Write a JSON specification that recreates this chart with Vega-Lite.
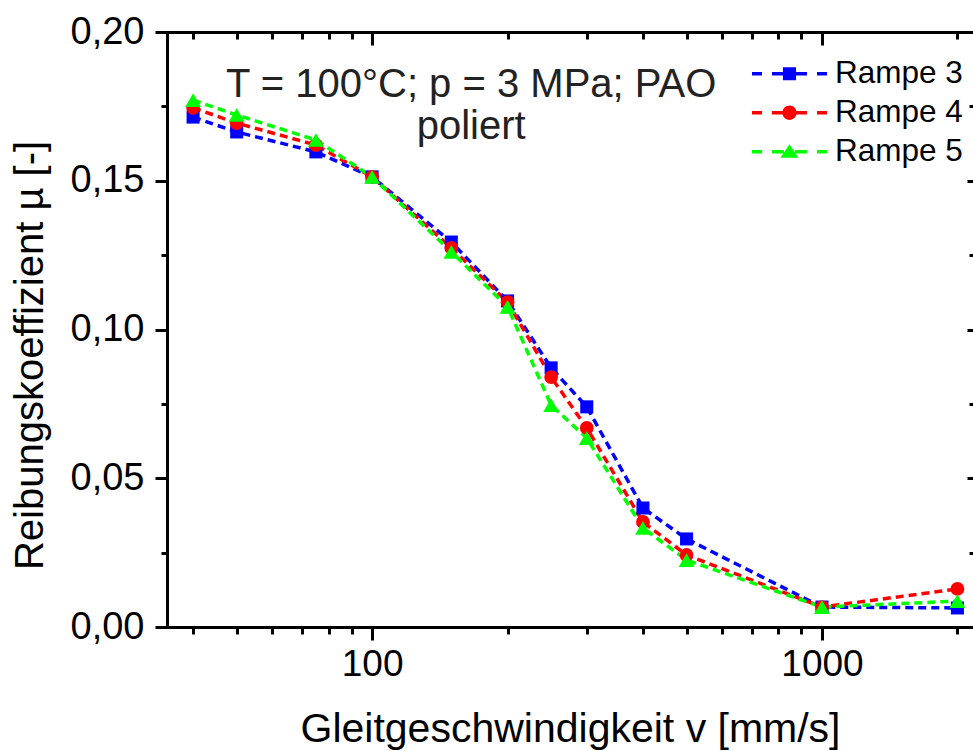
{
  "$schema": "https://vega.github.io/schema/vega-lite/v6.json",
  "width": 806,
  "height": 595,
  "autosize": {"type": "none"},
  "padding": {"left": 167, "top": 32, "right": 0, "bottom": 124},
  "background": "white",
  "config": {
    "view": {"stroke": null},
    "font": "Liberation Sans",
    "axis": {
      "labelFont": "Liberation Sans",
      "titleFont": "Liberation Sans",
      "labelColor": "black",
      "titleColor": "black",
      "domainColor": "black",
      "tickColor": "black",
      "domainWidth": 3,
      "tickWidth": 3,
      "labelFontWeight": "normal",
      "titleFontWeight": "normal",
      "grid": false,
      "domainCap": "square"
    }
  },
  "datasets": {
    "friction": [
      {"series": "Rampe 3", "v": 40, "mu": 0.1714},
      {"series": "Rampe 3", "v": 50, "mu": 0.1664},
      {"series": "Rampe 3", "v": 75, "mu": 0.1597},
      {"series": "Rampe 3", "v": 100, "mu": 0.1513},
      {"series": "Rampe 3", "v": 150, "mu": 0.1294},
      {"series": "Rampe 3", "v": 200, "mu": 0.1096},
      {"series": "Rampe 3", "v": 250, "mu": 0.0871},
      {"series": "Rampe 3", "v": 300, "mu": 0.0740},
      {"series": "Rampe 3", "v": 400, "mu": 0.0400},
      {"series": "Rampe 3", "v": 500, "mu": 0.0296},
      {"series": "Rampe 3", "v": 1000, "mu": 0.0067},
      {"series": "Rampe 3", "v": 2000, "mu": 0.0064},
      {"series": "Rampe 4", "v": 40, "mu": 0.1745},
      {"series": "Rampe 4", "v": 50, "mu": 0.1694},
      {"series": "Rampe 4", "v": 75, "mu": 0.1620},
      {"series": "Rampe 4", "v": 100, "mu": 0.1513},
      {"series": "Rampe 4", "v": 150, "mu": 0.1274},
      {"series": "Rampe 4", "v": 200, "mu": 0.1092},
      {"series": "Rampe 4", "v": 250, "mu": 0.0840},
      {"series": "Rampe 4", "v": 300, "mu": 0.0669},
      {"series": "Rampe 4", "v": 400, "mu": 0.0353},
      {"series": "Rampe 4", "v": 500, "mu": 0.0242},
      {"series": "Rampe 4", "v": 1000, "mu": 0.0067},
      {"series": "Rampe 4", "v": 2000, "mu": 0.0128},
      {"series": "Rampe 5", "v": 40, "mu": 0.1771},
      {"series": "Rampe 5", "v": 50, "mu": 0.1721},
      {"series": "Rampe 5", "v": 75, "mu": 0.1637},
      {"series": "Rampe 5", "v": 100, "mu": 0.1513},
      {"series": "Rampe 5", "v": 150, "mu": 0.1261},
      {"series": "Rampe 5", "v": 200, "mu": 0.1076},
      {"series": "Rampe 5", "v": 250, "mu": 0.0746},
      {"series": "Rampe 5", "v": 300, "mu": 0.0635},
      {"series": "Rampe 5", "v": 400, "mu": 0.0333},
      {"series": "Rampe 5", "v": 500, "mu": 0.0225},
      {"series": "Rampe 5", "v": 1000, "mu": 0.0067},
      {"series": "Rampe 5", "v": 2000, "mu": 0.0087}
    ],
    "notes": [
      {"label": "T = 100°C; p = 3 MPa; PAO", "v": 166, "mu": 0.1822},
      {"label": "poliert", "v": 166, "mu": 0.1680}
    ]
  },
  "resolve": {"axis": {"x": "independent", "y": "independent"}},
  "layer": [
    {
      "data": {"name": "friction"},
      "mark": {"type": "line", "strokeDash": [8, 5], "strokeWidth": 3.5},
      "encoding": {
        "x": {
          "field": "v", "type": "quantitative",
          "scale": {"type": "log", "domain": [35, 2166], "nice": false, "zero": false},
          "axis": {
            "orient": "bottom", "values": [100, 1000], "format": "d",
            "tickSize": 13, "labelFontSize": 37, "labelPadding": 6,
            "title": "Gleitgeschwindigkeit v [mm/s]", "titleFontSize": 41, "titlePadding": 27
          }
        },
        "y": {
          "field": "mu", "type": "quantitative",
          "scale": {"domain": [0, 0.2], "nice": false, "zero": false},
          "axis": {
            "orient": "left", "values": [0, 0.05, 0.1, 0.15, 0.2], "format": ".2f",
            "labelExpr": "replace(datum.label, '.', ',')",
            "tickSize": 12, "labelFontSize": 38, "labelPadding": 11,
            "title": "Reibungskoeffizient µ [-]", "titleFontSize": 40,
            "titleX": -125, "titleY": 323, "titleAngle": 270,
            "titleAlign": "center", "titleBaseline": "alphabetic"
          }
        },
        "stroke": {
          "field": "series", "type": "nominal",
          "scale": {"range": ["#0000ff", "#ff0000", "#00ff00"]},
          "legend": null
        },
        "detail": {"field": "series"}
      }
    },
    {
      "data": {"name": "friction"},
      "transform": [{"filter": "datum.series === 'Rampe 3'"}],
      "mark": {"type": "point", "shape": "square", "filled": true, "color": "#0000ff", "size": 170, "opacity": 1},
      "encoding": {
        "x": {
          "field": "v", "type": "quantitative",
          "axis": {
            "orient": "bottom", "values": [40, 50, 60, 70, 80, 90, 200, 300, 400, 500, 600, 700, 800, 900, 2000],
            "labels": false, "domain": false, "tickSize": 7, "title": null
          }
        },
        "y": {
          "field": "mu", "type": "quantitative",
          "axis": {
            "orient": "left", "values": [0.025, 0.075, 0.125, 0.175],
            "labels": false, "domain": false, "tickSize": 6, "title": null
          }
        }
      }
    },
    {
      "data": {"name": "friction"},
      "transform": [{"filter": "datum.series === 'Rampe 4'"}],
      "mark": {"type": "point", "shape": "circle", "filled": true, "color": "#ff0000", "size": 190, "opacity": 1},
      "encoding": {
        "x": {
          "field": "v", "type": "quantitative",
          "axis": {
            "orient": "top", "values": [100, 1000],
            "labels": false, "domain": true, "tickSize": -13, "title": null
          }
        },
        "y": {
          "field": "mu", "type": "quantitative",
          "axis": {
            "orient": "right", "values": [0, 0.05, 0.1, 0.15, 0.2],
            "labels": false, "domain": false, "tickSize": -6, "title": null
          }
        }
      }
    },
    {
      "data": {"name": "friction"},
      "transform": [{"filter": "datum.series === 'Rampe 5'"}],
      "mark": {"type": "point", "shape": "triangle-up", "filled": true, "color": "#00ff00", "size": 250, "opacity": 1},
      "encoding": {
        "x": {
          "field": "v", "type": "quantitative",
          "axis": {
            "orient": "top", "values": [40, 50, 60, 70, 80, 90, 200, 300, 400, 500, 600, 700, 800, 900, 2000],
            "labels": false, "domain": false, "tickSize": -7, "title": null
          }
        },
        "y": {
          "field": "mu", "type": "quantitative",
          "axis": {
            "orient": "right", "values": [0.025, 0.075, 0.125, 0.175],
            "labels": false, "domain": false, "tickSize": -4, "title": null
          }
        }
      }
    },
    {
      "data": {"name": "friction"},
      "mark": {"type": "point", "filled": true, "size": 0},
      "encoding": {
        "x": {"field": "v", "type": "quantitative", "axis": null},
        "y": {"field": "mu", "type": "quantitative", "axis": null},
        "color": {
          "field": "series", "type": "nominal",
          "scale": {"domain": ["Rampe 3", "Rampe 4", "Rampe 5"], "range": ["#0000ff", "#ff0000", "#00ff00"]},
          "legend": {
            "title": null, "orient": "none", "legendX": 585, "legendY": 26,
            "padding": 0, "symbolSize": 196, "symbolOffset": 21.75, "symbolStrokeWidth": 0, "symbolOpacity": 1,
            "labelFont": "Liberation Sans", "labelFontSize": 31.5, "labelColor": "black",
            "labelOffset": 29.75, "rowPadding": 6, "labelLimit": 300
          }
        },
        "shape": {
          "field": "series", "type": "nominal",
          "scale": {
            "domain": ["Rampe 3", "Rampe 4", "Rampe 5"],
            "range": [
              "M-5.357,-0.241H-3.927V0.241H-5.357Z M-2.502,-0.241H-0.804V0.241H-2.502Z M0.804,-0.241H2.502V0.241H0.804Z M3.927,-0.241H5.357V0.241H3.927Z M-0.9375,-0.9375H0.9375V0.9375H-0.9375Z",
              "M-5.357,-0.241H-3.927V0.241H-5.357Z M-2.502,-0.241H-0.804V0.241H-2.502Z M0.804,-0.241H2.502V0.241H0.804Z M3.927,-0.241H5.357V0.241H3.927Z M-1.018,0A1.018,1.018,0,1,1,1.018,0A1.018,1.018,0,1,1,-1.018,0Z",
              "M-5.357,-0.241H-3.927V0.241H-5.357Z M-2.502,-0.241H-0.804V0.241H-2.502Z M0.804,-0.241H2.502V0.241H0.804Z M3.927,-0.241H5.357V0.241H3.927Z M0,-1.071L1.286,0.857L-1.286,0.857Z"
            ]
          },
          "legend": {
            "title": null, "orient": "none", "legendX": 585, "legendY": 26,
            "padding": 0, "symbolSize": 196, "symbolOffset": 21.75, "symbolStrokeWidth": 0, "symbolOpacity": 1,
            "labelFont": "Liberation Sans", "labelFontSize": 31.5, "labelColor": "black",
            "labelOffset": 29.75, "rowPadding": 6, "labelLimit": 300
          }
        }
      }
    },
    {
      "data": {"name": "notes"},
      "mark": {"type": "text", "font": "Liberation Sans", "fontSize": 40, "color": "#222222", "align": "center", "baseline": "middle"},
      "encoding": {
        "x": {"field": "v", "type": "quantitative", "axis": null},
        "y": {"field": "mu", "type": "quantitative", "axis": null},
        "text": {"field": "label"}
      }
    }
  ]
}
